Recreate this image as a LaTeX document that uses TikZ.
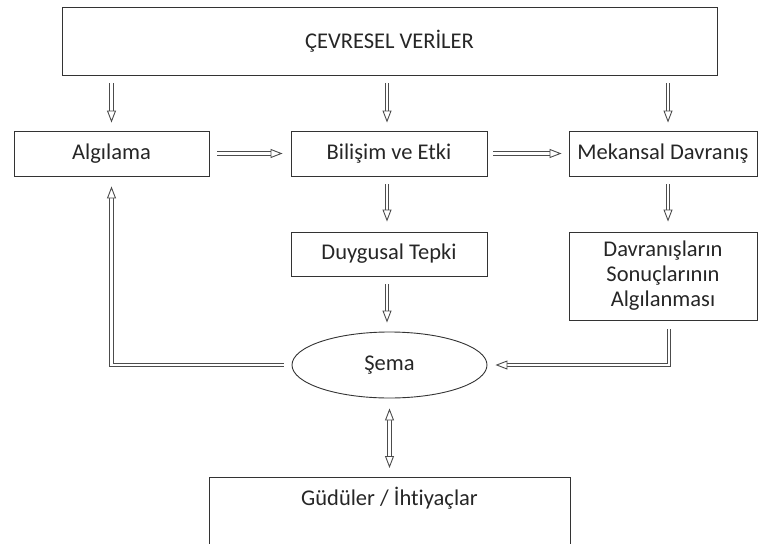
\documentclass[tikz,border=0pt]{standalone}
\usepackage{fontspec}
\setmainfont{Carlito}[Ligatures=NoCommon]
\usetikzlibrary{shapes.geometric}
\usetikzlibrary{arrows.meta}
\tikzset{
  box/.style={draw=black!80, line width=0.9pt, rectangle, inner sep=0pt, text=black!85},
  tip/.style={Triangle[open, length=12pt, width=9pt, fill=white]},
  flow/.style={draw=black!70, double=white, double distance=2.4pt, line width=0.9pt,
    -{Triangle[open, length=12pt, width=9pt, fill=white]}, shorten <=8pt, shorten >=8pt},
}

\begin{document}
\begin{tikzpicture}[x=1pt, y=-1pt, font=\fontsize{22.5}{25}\selectfont]
      \useasboundingbox (0, 0) rectangle (759, 543);
      \node[box, minimum width=655pt, minimum height=68pt] (env) at (389.5, 41) {\raisebox{3pt}{ÇEVRESEL VERİLER}};
      \node[box, minimum width=195pt, minimum height=45pt] (alg) at (111.5, 153.5) {Algılama};
      \node[box, minimum width=196pt, minimum height=45pt] (bil) at (389, 153.5) {Bilişim ve Etki};
      \node[box, minimum width=188pt, minimum height=45pt] (mek) at (663, 153.5) {Mekansal Davranış};
      \node[box, minimum width=196pt, minimum height=44pt] (duy) at (389, 254) {Duygusal Tepki};
      \node[box, minimum width=188pt, minimum height=88pt, align=center] (dav) at (663, 276) {Davranışların\\Sonuçlarının\\Algılanması};
      \node[box, ellipse, minimum width=195pt, minimum height=66pt] (sema) at (389.5, 365) {Şema};
      \node[box, anchor=north, minimum width=361pt, text height=28pt, text depth=45pt] (gud) at (389.5, 477) {Güdüler / İhtiyaçlar};
      \draw[flow] (alg.north |- env.south) -- (alg.north);
      \draw[flow] ([xshift=-2pt]bil.north |- env.south) -- ([xshift=-2pt]bil.north);
      \draw[flow] ([xshift=5pt]mek.north |- env.south) -- ([xshift=5pt]mek.north);
      \draw[flow] (alg.east) -- (bil.west);
      \draw[flow, shorten <=6pt, shorten >=7pt] (bil.east) -- (mek.west);
      \draw[flow, shorten >=10pt] ([xshift=-2pt]bil.south) -- ([xshift=-2pt]duy.north);
      \draw[flow, shorten >=9pt] ([xshift=-2pt]duy.south) -- ([xshift=-2pt]duy.south |- sema.north);
      \draw[flow, shorten >=10pt] ([xshift=5pt]mek.south) -- ([xshift=5pt]dav.north);
      \draw[flow, shorten <=9pt] ([xshift=6pt]dav.south) |- (sema.east);
      \draw[flow, shorten >=10pt] (sema.west) -| (alg.south);
      \draw[flow, {Triangle[open, length=12pt, width=9pt, fill=white]}-{Triangle[open, length=12pt, width=9pt, fill=white]}, shorten <=10pt, shorten >=9pt] (sema.south) -- (gud.north);
    \end{tikzpicture}
\end{document}
